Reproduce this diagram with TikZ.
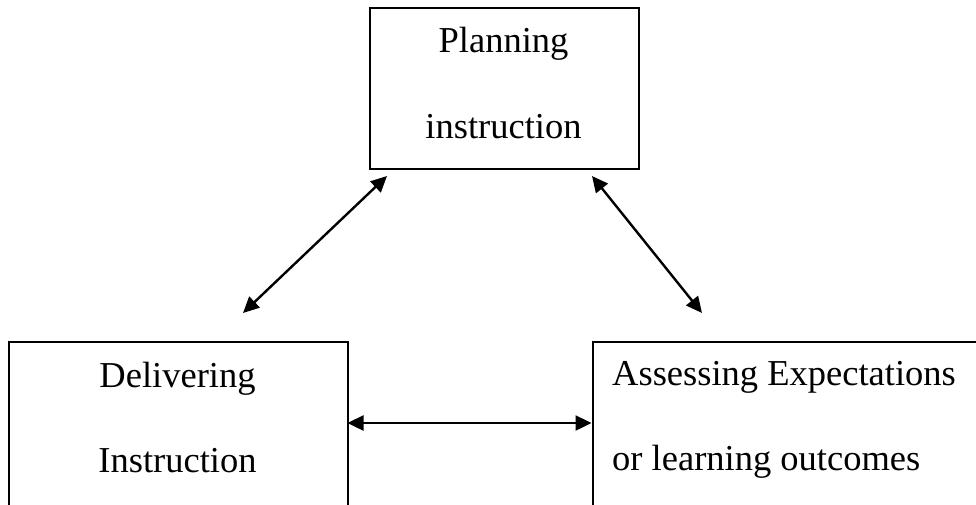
\documentclass[tikz,border=0pt]{standalone}
\usepackage{fontspec}
\setmainfont{Liberation Serif}
\usetikzlibrary{arrows.meta}
\tikzset{
  box/.style={draw=black, line width=2pt, rectangle, inner sep=0pt, anchor=north west},
  lbl/.style={anchor=base, inner sep=0pt, font=\fontsize{36.5}{43}\selectfont},
  lbll/.style={anchor=base west, inner sep=0pt, font=\fontsize{36.5}{43}\selectfont},
  link/.style={line width=2.4pt, {Triangle[length=16pt,width=15pt]}-{Triangle[length=16pt,width=15pt]}}
}
\begin{document}
\begin{tikzpicture}[x=1pt,y=-1pt]
\clip (0,0) rectangle (976,504);
\fill[white] (0,0) rectangle (976,504);
% boxes
\node[box, minimum width=269pt, minimum height=161pt] (plan) at (369,7) {};
\node[box, minimum width=339pt, minimum height=200pt] (deliv) at (8,341) {};
\node[box, minimum width=420pt, minimum height=200pt] (assess) at (592,341) {};
% labels
\node[lbl] (t1) at (503.5,52) {Planning};
\node[lbl] (t2) at (503.5,138) {instruction};
\node[lbl] (t3) at (177.5,387) {Delivering};
\node[lbl] (t4) at (177.5,472) {Instruction};
\node[lbll] (t5) at (612,385) {Assessing Expectations};
\node[lbll] (t6) at (612,470) {or learning outcomes};
% connector end points
\coordinate (pl) at (387,176);
\coordinate (dl) at (243,313);
\coordinate (pr) at (592,176);
\coordinate (ar) at (702,313);
\coordinate (dh) at (347.5,423);
\coordinate (ah) at (591.5,423);
\draw[link] (pl) -- (dl);
\draw[link] (pr) -- (ar);
\draw[link] (dh) -- (ah);
\end{tikzpicture}
\end{document}
